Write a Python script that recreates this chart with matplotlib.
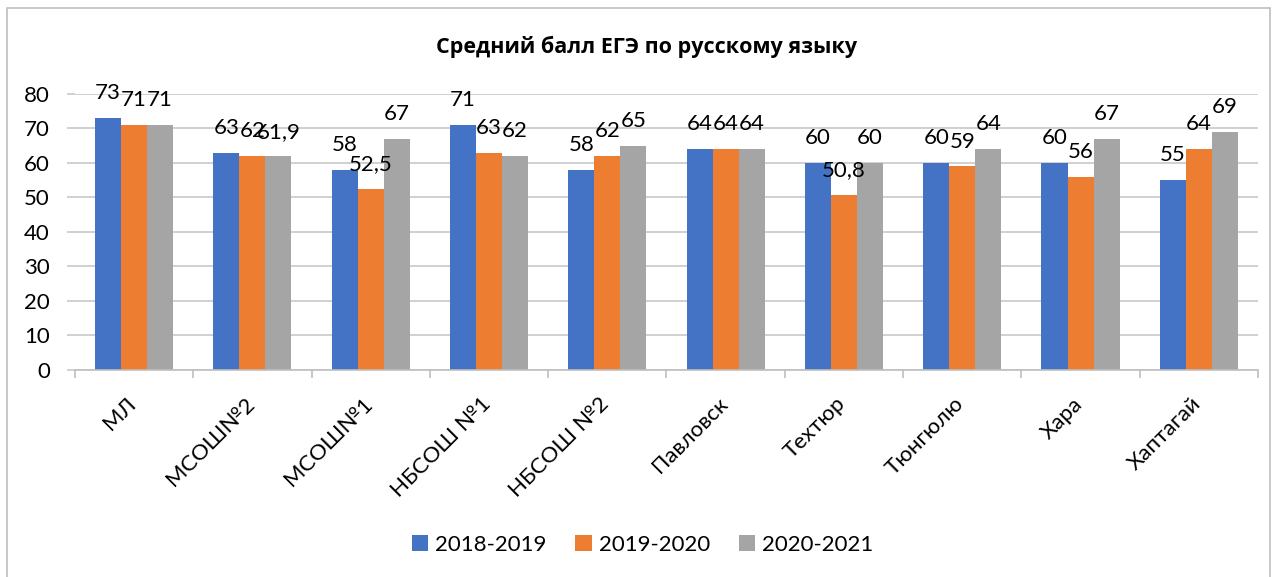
import matplotlib.pyplot as plt
import matplotlib.transforms as mtransforms
import numpy as np
from matplotlib.patches import Rectangle

# --- data ---
schools = ['МЛ', 'МСОШ№2', 'МСОШ№1', 'НБСОШ №1', 'НБСОШ №2',
           'Павловск', 'Техтюр', 'Тюнгюлю', 'Хара', 'Хаптагай']
years = ['2018-2019', '2019-2020', '2020-2021']
scores_2018 = [73, 63, 58, 71, 58, 64, 60, 60, 60, 55]
scores_2019 = [71, 62, 52.5, 63, 62, 64, 50.8, 59, 56, 64]
scores_2020 = [71, 61.9, 67, 62, 65, 64, 60, 64, 67, 69]

colors = ['#4472C4', '#ED7D31', '#A5A5A5']
FONT = ['Lato', 'DejaVu Sans']
plt.rcParams['font.family'] = FONT


def fmt(v):
    # decimal comma, as in the original
    s = f'{v:g}'
    return s.replace('.', ',')


fig = plt.figure(figsize=(12.8, 5.77), dpi=100)
ax = fig.add_axes([0.0586, 0.3588, 0.9242, 0.4783])

x = np.arange(len(schools))
width = 0.22
series = [scores_2018, scores_2019, scores_2020]
for i, (vals, col, lab) in enumerate(zip(series, colors, years)):
    pos = x + (i - 1) * width
    bars = ax.bar(pos, vals, width=width, color=col, label=lab, zorder=2)
    for b, v in zip(bars, vals):
        ax.annotate(fmt(v), (b.get_x() + b.get_width() / 2, v),
                    xytext=(0, 13.5), textcoords='offset points',
                    ha='center', va='baseline', fontsize=16, color='black',
                    zorder=3)

ax.set_xlim(-0.5, len(schools) - 0.5)
ax.set_ylim(0, 80)
ax.set_yticks(range(0, 81, 10))
ax.yaxis.grid(True, color='#c8c8c8', linewidth=1.2, zorder=0)
ax.set_axisbelow(True)

for s in ['top', 'right', 'left']:
    ax.spines[s].set_visible(False)
ax.spines['bottom'].set_color('#bfbfbf')
ax.spines['bottom'].set_linewidth(1.2)

ax.tick_params(axis='y', length=6, color='#c8c8c8', width=1.2, pad=12,
               labelsize=16)
# category ticks sit between groups
ax.set_xticks(np.arange(-0.5, len(schools), 1.0))
ax.set_xticklabels([])
ax.tick_params(axis='x', which='major', length=6, color='#bfbfbf', width=1.2)
ax.set_xticks(x, minor=True)
ax.set_xticklabels(schools, minor=True, rotation=45, ha='right',
                   rotation_mode='anchor', fontsize=16)
ax.tick_params(axis='x', which='minor', length=0, pad=17)
shift = mtransforms.ScaledTranslation(-6 / 72, 0, fig.dpi_scale_trans)
for lbl in ax.get_xticklabels(minor=True):
    lbl.set_transform(lbl.get_transform() + shift)

fig.text(0.505, 0.918, 'Средний балл ЕГЭ по русскому языку', ha='center',
         va='center', fontsize=15.5, fontweight='bold',
         family=['Open Sans', 'DejaVu Sans'])

ax.legend(loc='center', bbox_to_anchor=(0.502, 0.0556), bbox_transform=fig.transFigure,
          ncol=3, frameon=False, fontsize=16, handlelength=0.75,
          handleheight=0.75, handletextpad=0.3, columnspacing=1.3)

fig.patches.append(Rectangle((7 / 1280, -0.01), 1263 / 1280, 1 - 8 / 577 + 0.01,
                             transform=fig.transFigure, fill=False,
                             edgecolor='#bfbfbf', linewidth=1.2))

fig.savefig('out.png', dpi=100, facecolor='white')
